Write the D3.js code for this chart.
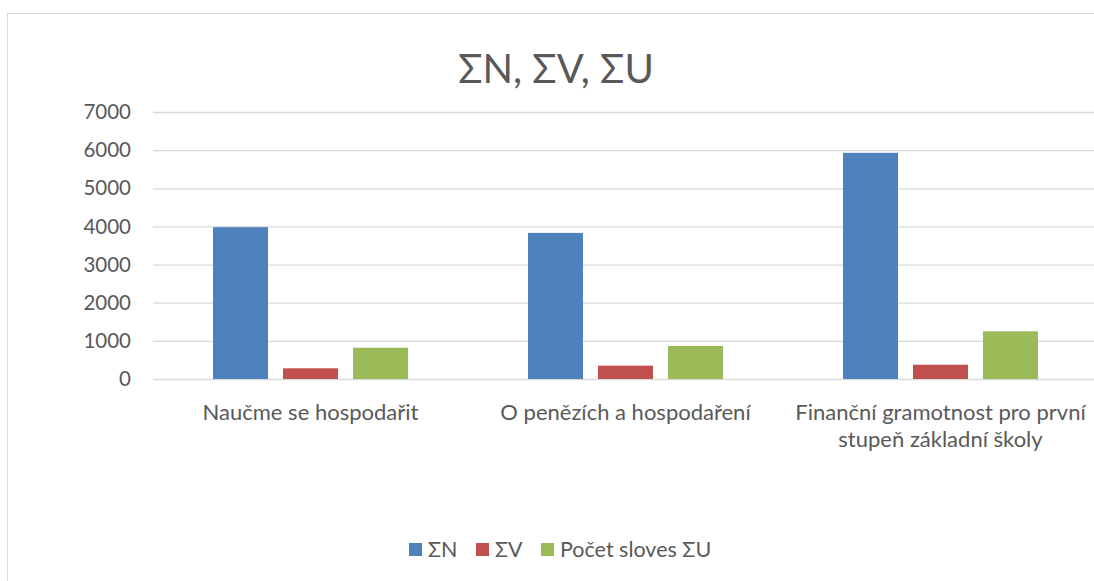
<!DOCTYPE html>
<html>
<head>
<meta charset="utf-8">
<script src="https://cdn.jsdelivr.net/npm/d3@7"></script>
<style>
  body { margin: 0; background: #fff; }
  svg { display: block; font-family: Lato, "Open Sans", sans-serif; }
</style>
</head>
<body>
<div id="chart"></div>
<script>
const categories = [
  ["Naučme se hospodařit"],
  ["O penězích a hospodaření"],
  ["Finanční gramotnost pro první", "stupeň základní školy"]
];
const seriesNames = ["ΣN", "ΣV", "Počet sloves ΣU"];
const sumN = [3980, 3830, 5930];
const sumV = [280, 350, 375];
const sumU = [820, 865, 1250];
const yTicks = [0, 1000, 2000, 3000, 4000, 5000, 6000, 7000];
const colors = ["#4f81bd", "#c0504d", "#9bbb59"];

const width = 1094, height = 581;
const margin = { top: 112, right: -4, bottom: 202, left: 153 };
const plotW = width - margin.left - margin.right;
const plotH = height - margin.top - margin.bottom;

const series = [sumN, sumV, sumU];
const data = categories.map((c, i) => ({
  label: c,
  values: series.map((s, j) => ({ key: j, value: s[i] }))
}));

const svg = d3
  .select("#chart")
  .append("svg")
  .attr("width", width)
  .attr("height", height);

// outer chart border (cropped at right and bottom)
svg
  .append("rect")
  .attr("x", 7.5)
  .attr("y", 13.5)
  .attr("width", width + 20)
  .attr("height", height + 20)
  .attr("fill", "#fff")
  .attr("stroke", "#d9d9d9");

svg
  .append("text")
  .attr("x", 556)
  .attr("y", 83)
  .attr("text-anchor", "middle")
  .attr("font-size", 40)
  .attr("fill", "#595959")
  .text("ΣN, ΣV, ΣU");

const chart = svg
  .append("g")
  .attr("transform", `translate(${margin.left},${margin.top})`);

const x0 = d3
  .scaleBand()
  .domain(d3.range(categories.length))
  .range([0, plotW]);

const x1 = d3
  .scaleBand()
  .domain(d3.range(series.length))
  .range([60, x0.bandwidth() - 60])
  .paddingInner(15 / 70);

const y = d3.scaleLinear().domain([0, 7000]).range([plotH, 0]);

// gridlines
chart
  .append("g")
  .call(d3.axisLeft(y).tickValues(yTicks).tickSize(-plotW).tickFormat(""))
  .call((g) => g.select(".domain").remove())
  .call((g) => g.selectAll("line").attr("stroke", "#d9d9d9").attr("stroke-width", 1.3));

// y labels
chart
  .append("g")
  .selectAll("text")
  .data(yTicks)
  .join("text")
  .attr("x", -22)
  .attr("y", (d) => y(d))
  .attr("dy", "0.35em")
  .attr("text-anchor", "end")
  .attr("font-size", 20.5)
  .attr("fill", "#595959")
  .text((d) => d);

// bars
chart
  .append("g")
  .selectAll("g")
  .data(data)
  .join("g")
  .attr("transform", (d, i) => `translate(${x0(i)},0)`)
  .selectAll("rect")
  .data((d) => d.values)
  .join("rect")
  .attr("x", (d) => x1(d.key))
  .attr("width", x1.bandwidth())
  .attr("y", (d) => y(d.value))
  .attr("height", (d) => plotH - y(d.value))
  .attr("fill", (d) => colors[d.key]);

// category labels
const cat = chart
  .append("g")
  .selectAll("text")
  .data(data)
  .join("text")
  .attr("text-anchor", "middle")
  .attr("font-size", 22)
  .attr("fill", "#595959")
  .attr("transform", (d, i) => `translate(${x0(i) + x0.bandwidth() / 2},${plotH + 41})`);
cat
  .selectAll("tspan")
  .data((d) => d.label)
  .join("tspan")
  .attr("x", 0)
  .attr("dy", (d, i) => (i === 0 ? 0 : 27))
  .text((d) => d);

// legend
const legendX = [409, 476, 541];
const legend = svg
  .append("g")
  .selectAll("g")
  .data(seriesNames)
  .join("g")
  .attr("transform", (d, i) => `translate(${legendX[i]},543)`);
legend
  .append("rect")
  .attr("width", 13)
  .attr("height", 13)
  .attr("fill", (d, i) => colors[i]);
legend
  .append("text")
  .attr("x", 19)
  .attr("y", 14)
  .attr("font-size", 21.5)
  .attr("fill", "#595959")
  .text((d) => d);
</script>
</body>
</html>
